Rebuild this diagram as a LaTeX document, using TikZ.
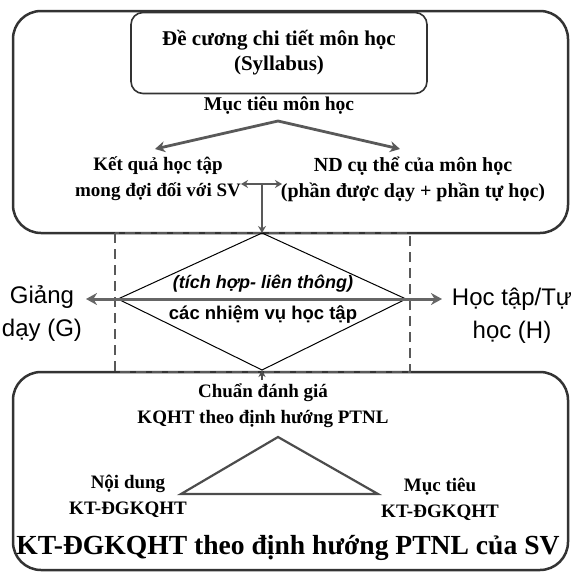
\documentclass[tikz,border=0pt]{standalone}
\usepackage{fontspec}
\setmainfont{Liberation Serif}
\setsansfont{Liberation Sans}
\usetikzlibrary{arrows.meta}
\begin{document}
\begin{tikzpicture}[x=1pt,y=-1pt,
  outerbox/.style={draw=black!80,line width=2.5pt,rounded corners=28pt,minimum width=555pt,inner sep=0pt},
  innerbox/.style={draw=black!80,line width=1.6pt,rounded corners=12pt,inner sep=0pt,
    font=\bfseries\fontsize{21}{25}\selectfont,align=center},
  sertxt/.style={font=\bfseries\fontsize{19}{26}\selectfont,align=center,inner sep=0pt},
  bigtxt/.style={font=\bfseries\fontsize{27.6}{30}\selectfont,inner sep=0pt},
  santxt/.style={font=\sffamily\fontsize{24}{33}\selectfont,align=center,inner sep=0pt},
  midtxt/.style={font=\sffamily\bfseries\fontsize{18.5}{22}\selectfont,inner sep=0pt},
  dsh/.style={draw=black!65,line width=2.4pt,dash pattern=on 10pt off 6pt},
  fatarrow/.style={draw=black!65,line width=2.8pt,-{Stealth[length=10pt,width=11pt]}},
  thinline/.style={draw=black,line width=1pt},
  trline/.style={draw=black!70,line width=2.2pt,line join=miter},
]
\useasboundingbox (0,0) rectangle (571,574);

% boxes
\node[outerbox,minimum height=222pt] (topbox) at (290.5,122) {};
\node[outerbox,minimum height=198pt] (botbox) at (290.5,471) {};
\node[innerbox,minimum width=296pt,minimum height=81pt] (syl) at (279,53)
  {Đề cương chi tiết môn học\\(Syllabus)};

% texts top
\node[sertxt,font=\bfseries\fontsize{19.5}{26}\selectfont] (goal) at (279,106) {Mục tiêu môn học};
\node[sertxt] (kq) at (158,179) {Kết quả học tập\\mong đợi đối với SV};
\node[sertxt,font=\bfseries\fontsize{20}{26}\selectfont] (nd) at (413,179) {ND cụ thể của môn học\\(phần được dạy + phần tự học)};

\coordinate (gs) at (278,121);
\coordinate (gl) at (155,149);
\coordinate (gr) at (400,149);
\draw[fatarrow] (gs) -- (gl);
\draw[fatarrow] (gs) -- (gr);

% T arrow
\coordinate (tl) at (241,184);
\coordinate (tr) at (282,184);
\coordinate (tj) at (262,184);
\draw[draw=black!65,line width=2.2pt,{Stealth[length=7pt,width=8pt]}-{Stealth[length=7pt,width=8pt]}] (tl) -- (tr);

% dashed frame
\draw[dsh] (115,233) rectangle (410,372);

% diamond
\coordinate (dT) at (262,233);
\coordinate (dL) at (118,299);
\coordinate (dR) at (406,299);
\coordinate (dB) at (262,370);
\draw[thinline] (dT) -- (dR) -- (dB) -- (dL) -- cycle;
\draw[draw=black!65,line width=2.2pt,-{Stealth[length=7pt,width=8pt]}] (tj) -- (dT);

% horizontal arrow
\coordinate (aL) at (86,299);
\coordinate (aR) at (442,299);
\draw[draw=black!60,line width=3pt,{Stealth[length=11pt,width=12pt]}-{Stealth[length=11pt,width=12pt]}] (aL) -- (aR);

\node[midtxt,font=\sffamily\bfseries\itshape\fontsize{18}{22}\selectfont] (tich) at (263,284) {(tích hợp- liên thông)};
\node[midtxt] (nv) at (263,315) {các nhiệm vụ học tập};
\node[santxt] (gd) at (42,314) {Giảng\\dạy (G)};
\node[santxt] (ht) at (512,316) {Học tập/Tự\\học (H)};

% up arrow into diamond bottom
\coordinate (ub) at (262,380);
\draw[draw=black!70,line width=1.6pt,-{Stealth[length=7pt,width=7pt]}] (ub) -- (dB);

% bottom texts
\node[sertxt] (chuan) at (263,406) {Chuẩn đánh giá\\KQHT theo định hướng PTNL};
\coordinate (tA) at (278,437);
\coordinate (tL) at (181,494);
\coordinate (tR) at (378,494);
\draw[trline] (tA) -- (tR) -- (tL) -- cycle;
\node[sertxt,align=center] (noi) at (128,496) {Nội dung\\KT-ĐGKQHT};
\node[sertxt,align=center] (muc) at (440,499) {Mục tiêu\\KT-ĐGKQHT};
\node[bigtxt] (kt) at (288,548) {KT-ĐGKQHT theo định hướng PTNL của SV};
\end{tikzpicture}
\end{document}
